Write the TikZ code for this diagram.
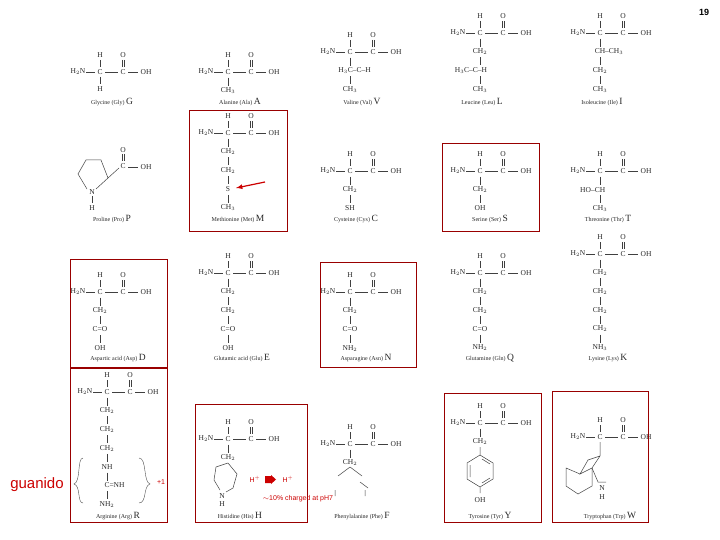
\documentclass[tikz,border=0pt]{standalone}
\usepackage{fontspec}
\setmainfont{Liberation Serif}
\newfontfamily\sansf{Liberation Sans}
\begin{document}
\begin{tikzpicture}[x=1pt,y=-1pt,
  t/.style={inner sep=0pt,font=\fontsize{7.5}{8}\selectfont,text=black!85},
  lab/.style={inner sep=0pt,font=\fontsize{6}{7}\selectfont,text=black!85},
  bx/.style={draw=red!60!black,line width=0.8pt},
  red/.style={text=red!80!black,font=\sansf\fontsize{7}{8}\selectfont,inner sep=0pt},
  bond/.style={black!75,line width=0.5pt}]
\useasboundingbox (0,0) rectangle (720,540);
\newcommand\aacore[2]{%
 \node[t] at (#1-22,#2) {H$_2$N}; \draw[bond] (#1-14,#2)--(#1-5,#2);
 \node[t] (ca) at (#1,#2){C}; \draw[bond] (#1+5,#2)--(#1+18,#2);
 \node[t] at (#1+23,#2){C}; \draw[bond] (#1+28,#2)--(#1+38,#2);
 \node[t] at (#1+46,#2){OH};
 \node[t] at (#1,#2-17){H}; \draw[bond] (#1,#2-12)--(#1,#2-5);
 \node[t] at (#1+23,#2-17){O}; \draw[bond] (#1+21.8,#2-12)--(#1+21.8,#2-5) (#1+24.2,#2-12)--(#1+24.2,#2-5);}
\newcommand\chain[3]{%
 \foreach \s [count=\i] in {#3} {\node[t] at (#1,#2+18.7*\i) {\s}; \draw[bond] (#1,#2+18.7*\i-13)--(#1,#2+18.7*\i-5);}}
\newcommand\lbl[4]{\node[lab] at (#1,#2) {#3 {\fontsize{9.5}{10}\selectfont #4}};}
% Row 1
\aacore{100}{72} \node[t] at (100,89){H}; \draw[bond](100,77)--(100,84); \lbl{112}{102}{Glycine (Gly)}{G}
\aacore{228}{72} \chain{228}{72}{CH$_3$} \lbl{240}{102}{Alanine (Ala)}{A}
\aacore{350}{52} \chain{350}{52}{\phantom{--H}H$_3$C--C--H,CH$_3$} \lbl{362}{102}{Valine (Val)}{V}
\aacore{480}{33} \chain{480}{33}{CH$_2$,H$_3$C--C--H\phantom{H$_3$C--},CH$_3$} \lbl{482}{102}{Leucine (Leu)}{L}
\aacore{600}{33} \chain{600}{33}{\phantom{--CH$_3$}CH--CH$_3$,CH$_2$,CH$_3$} \lbl{602}{102}{Isoleucine (Ile)}{I}
% Row 2 : proline
\node[t] (pn) at (92,192){N}; \node[t] at (92,208){H}; \draw[bond](92,196)--(92,203);
\draw[bond] (96,189)--(108,178) (87,189)--(78,174)--(86,160)--(101,160)--(108,178);
\draw[bond] (108,178)--(119,168); \node[t] at (123,166){C}; \draw[bond](128,167)--(138,167); \node[t] at (146,167){OH};
\node[t] at (123,150){O}; \draw[bond] (121.8,154)--(121.8,161) (124.2,154)--(124.2,161);
\lbl{112}{219}{Proline (Pro)}{P}
\aacore{228}{133} \chain{228}{133}{CH$_2$,CH$_2$,S,CH$_3$} \lbl{238}{219}{Methionine (Met)}{M}
\aacore{350}{171} \chain{350}{171}{CH$_2$,SH} \lbl{356}{219}{Cysteine (Cys)}{C}
\aacore{480}{171} \chain{480}{171}{CH$_2$,OH} \lbl{490}{219}{Serine (Ser)}{S}
\aacore{600}{171} \chain{600}{171}{HO--CH\phantom{--HO},CH$_3$} \lbl{608}{219}{Threonine (Thr)}{T}
% Row 3
\aacore{100}{292} \chain{100}{292}{CH$_2$,C{=}O,OH} \lbl{118}{358}{Aspartic acid (Asp)}{D}
\aacore{228}{273} \chain{228}{273}{CH$_2$,CH$_2$,C{=}O,OH} \lbl{242}{358}{Glutamic acid (Glu)}{E}
\aacore{350}{292} \chain{350}{292}{CH$_2$,C{=}O,NH$_2$} \lbl{366}{358}{Asparagine (Asn)}{N}
\aacore{480}{273} \chain{480}{273}{CH$_2$,CH$_2$,C{=}O,NH$_2$} \lbl{490}{358}{Glutamine (Gln)}{Q}
\aacore{600}{254} \chain{600}{254}{CH$_2$,CH$_2$,CH$_2$,CH$_2$,NH$_3$} \lbl{608}{358}{Lysine (Lys)}{K}
% Row 4
\aacore{107}{392} \chain{107}{392}{CH$_2$,CH$_2$,CH$_2$,NH,\phantom{=NH}C{=}NH,NH$_2$} \lbl{118}{516}{Arginine (Arg)}{R}
\aacore{228}{439} \chain{228}{439}{CH$_2$}
\draw[bond] (228,463)--(237,474)--(233,488)--(226,492) (228,463)--(216,467)--(214,480)--(220,490);
\node[t] at (222,496){N}; \node[t] at (222,504){H};
\lbl{240}{516}{Histidine (His)}{H}
\aacore{350}{444} \chain{350}{444}{CH$_2$}
\draw[bond] (350,467)--(338,476) (350,467)--(362,476) (335,490)--(335,496) (365,490)--(365,496) (360,482)--(368,488);
\lbl{362}{516}{Phenylalanine (Phe)}{F}
\aacore{480}{423} \chain{480}{423}{CH$_2$}
\draw[bond] (480,447)--(480,455) (480,455)--(493,463)--(493,479)--(480,487)--(467,479)--(467,463)--cycle (480,487)--(480,493);
\draw[bond] (482,459)--(490,464) (482,483)--(490,478) (470,465)--(470,477);
\node[t] at (480,500){OH};
\lbl{490}{516}{Tyrosine (Tyr)}{Y}
\aacore{600}{437} 
\draw[bond] (600,442)--(600,456) (600,456)--(592,468)--(598,482)--(606,482) (600,456)--(588,460)--(580,474)--(592,468);
\draw[bond] (580,474)--(566,468)--(566,486)--(578,494)--(592,486)--(592,468);
\node[t] at (602,488){N}; \node[t] at (602,497){H};
\lbl{610}{516}{Tryptophan (Trp)}{W}
% boxes
\draw[bx] (189,110) rectangle (287,231);
\draw[bx] (442,143) rectangle (539,231);
\draw[bx] (70,259) rectangle (167,367);
\draw[bx] (320,262) rectangle (416,367);
\draw[bx] (70,368) rectangle (167,522);
\draw[bx] (195,404) rectangle (307,522);
\draw[bx] (444,393) rectangle (541,522);
\draw[bx] (552,391) rectangle (648,522);
% annotations
\draw[red!80!black,line width=1.2pt,-latex] (265,182)--(236,188);
\node[red,font=\sansf\fontsize{15}{16}\selectfont] (gu) at (37,485){guanido};
\draw[black!70] (83,458) .. controls (77,458) and (81,482) .. (74,484) .. controls (81,486) and (77,503) .. (83,503);
\draw[black!70] (139,458) .. controls (147,458) and (143,482) .. (150,484) .. controls (143,486) and (147,503) .. (139,503);
\node[red] at (161,482){+1};
\node[red] at (255,479){H$^+$};
\fill[red!80!black] (265,476) rectangle (271,483) (271,475)--(276,479.5)--(271,484)--cycle;
\node[red] at (288,479){H$^+$};
\node[red] at (298,499){$\sim$10\% charged at pH7};
\node[inner sep=0pt,font=\sansf\bfseries\fontsize{9}{10}\selectfont] at (704,12){19};
\end{tikzpicture}
\end{document}
